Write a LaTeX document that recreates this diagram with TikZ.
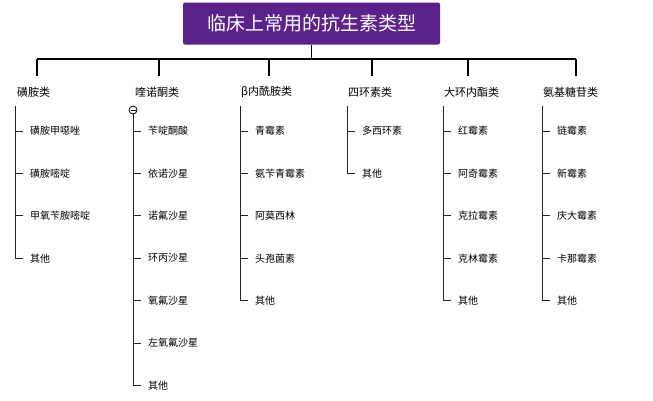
\documentclass[tikz,border=0pt]{standalone}
\usepackage{fontspec}
\setmainfont{Noto Sans CJK SC}
\definecolor{titlepurple}{HTML}{5B2389}
\tikzset{
  titlebox/.style={fill=titlepurple, text=white, rounded corners=2pt, font=\fontsize{19}{22}\selectfont, minimum width=257pt, minimum height=42pt},
  catlabel/.style={anchor=west, inner sep=0pt, font=\fontsize{11}{13}\selectfont},
  leaflabel/.style={anchor=west, inner sep=0pt, font=\fontsize{10}{12}\selectfont},
  treeline/.style={line width=0.8pt, black!85},
  busline/.style={line width=1.3pt, black}
}
\begin{document}
\begin{tikzpicture}[x=1pt,y=-1pt]
    \useasboundingbox (0,0) rectangle (653,400);
    \node [titlebox] (title) at (311.5,23.5) {临床上常用的抗生素类型};
    \coordinate (bus) at (311.5,59);
    \draw [busline] (title.south) -- (bus);
    \draw [busline] (37,59) -- (576,59);
    % categories
    \foreach \name/\x/\dx/\txt in {sul/17/37/磺胺类, qui/135/159/喹诺酮类, bet/241/269/β内酰胺类,
        tet/348/372/四环素类, mac/444/468/大环内酯类, ami/543/576/氨基糖苷类} {
        \node [catlabel] (\name) at (\x,92) {\txt};
        \draw [busline] (\dx,59) -- (\dx,76);
    }
    % leaves
    \foreach \name/\x/\list in {
        sul/15/{磺胺甲噁唑,磺胺嘧啶,甲氧苄胺嘧啶,其他},
        qui/133/{苄啶酮酸,依诺沙星,诺氟沙星,环丙沙星,氧氟沙星,左氧氟沙星,其他},
        bet/240/{青霉素,氨苄青霉素,阿莫西林,头孢菌素,其他},
        tet/347/{多西环素,其他},
        mac/443/{红霉素,阿奇霉素,克拉霉素,克林霉素,其他},
        ami/542/{链霉素,新霉素,庆大霉素,卡那霉素,其他}} {
        \foreach \leaf [count=\i] in \list {
            \pgfmathsetmacro{\y}{131+42.4*(\i-1)}
            \node [leaflabel] (\name-\i) at (\x+15,\y) {\leaf};
            \draw [treeline] (\x,\y) -- (\x+8,\y);
            \coordinate (\name-end) at (\x,\y);
        }
        \draw [treeline] (\x,106) -- (\name-end);
    }
    % collapse marker
    \node [circle, draw, fill=white, line width=0.8pt, inner sep=0pt, minimum size=8pt] (fold) at (133,110) {};
    \draw [line width=0.8pt] (130.5,110) -- (135.5,110);
\end{tikzpicture}
\end{document}
